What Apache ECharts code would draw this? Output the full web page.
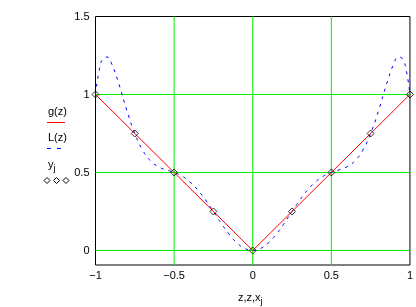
<!DOCTYPE html>
<html><head><meta charset="utf-8">
<script src="https://cdn.jsdelivr.net/npm/echarts@6/dist/echarts.min.js"></script>
<style>html,body{margin:0;padding:0;background:#fff}#c{width:416px;height:307px}</style>
</head><body><div id="c"></div>
<script>
// g(z) = |z|
var gX = [-1, 0, 1];
var gY = [1, 0, 1];
// L(z) interpolating polynomial
var lX = [-1,-0.975,-0.95,-0.925,-0.9,-0.85,-0.8,-0.75,-0.7,-0.65,-0.6,-0.55,-0.5,-0.45,-0.4,-0.35,-0.3,-0.25,-0.2,-0.15,-0.1,-0.05,0,
          0.05,0.1,0.15,0.2,0.25,0.3,0.35,0.4,0.45,0.5,0.55,0.6,0.65,0.7,0.75,0.8,0.85,0.9,0.925,0.95,0.975,1];
var lY = [1,1.161,1.232,1.240,1.204,1.063,0.896,0.75,0.643,0.575,0.537,0.517,0.5,0.477,0.440,0.389,0.324,0.25,0.174,0.105,0.049,0.013,0,
          0.013,0.049,0.105,0.174,0.25,0.324,0.389,0.440,0.477,0.5,0.517,0.537,0.575,0.643,0.75,0.896,1.063,1.204,1.240,1.232,1.161,1];
// nodes x_j, y_j
var xj = [-1,-0.75,-0.5,-0.25,0,0.25,0.5,0.75,1];
var yj = [1,0.75,0.5,0.25,0,0.25,0.5,0.75,1];
// tick labels
var xTicks = [-1,-0.5,0,0.5,1];
var yTicks = [0,0.5,1,1.5];
var xGrid = [-0.5,0,0.5];
var yGrid = [0,0.5,1];
var xMin = -1, xMax = 1, yMin = -0.093, yMax = 1.5;

function zip(a,b){return a.map(function(v,i){return [v,b[i]];});}
function fmt(v){return String(v).replace('-', '\u2212');}
var font = 'Liberation Sans, Arial, sans-serif';
var chart = echarts.init(document.getElementById('c'), null, {renderer:'canvas'});
var gridSeries = [];
xGrid.forEach(function(v){
  gridSeries.push({type:'line',silent:true,showSymbol:false,data:[[v,yMin],[v,yMax]],lineStyle:{color:'#00ee00',width:1},z:1});
});
yGrid.forEach(function(v){
  gridSeries.push({type:'line',silent:true,showSymbol:false,data:[[xMin,v],[xMax,v]],lineStyle:{color:'#00ee00',width:1},z:1});
});
chart.setOption({
  animation:false,
  backgroundColor:'#fff',
  grid:{left:95.5,right:4.5,top:16.5,bottom:42,show:true,borderColor:'#000',borderWidth:1,backgroundColor:'transparent'},
  xAxis:{type:'value',min:xMin,max:xMax,interval:0.5,
    axisLine:{show:false,onZero:false},axisTick:{show:false},splitLine:{show:false},
    axisLabel:{color:'#000',fontSize:11,fontFamily:font,margin:5,formatter:function(v){return fmt(v);},
      showMinLabel:true,showMaxLabel:true}},
  yAxis:{type:'value',min:yMin,max:yMax,
    axisLine:{show:false,onZero:false},axisTick:{show:false},splitLine:{show:false},
    axisLabel:{color:'#000',fontSize:11,fontFamily:font,margin:6,customValues:yTicks,formatter:function(v){return fmt(v);}}},
  series:gridSeries.concat([
    {name:'g(z)',type:'line',data:zip(gX,gY),showSymbol:false,lineStyle:{color:'#ff0000',width:1},z:3},
    {name:'L(z)',type:'line',data:zip(lX,lY),showSymbol:false,smooth:true,lineStyle:{color:'#0000ff',width:1,type:[3,5]},z:2},
    {name:'y_j',type:'scatter',data:zip(xj,yj),symbol:'diamond',symbolSize:7,
      itemStyle:{color:'transparent',borderColor:'#000',borderWidth:1},z:4}
  ]),
  graphic:[
    {type:'text',x:48,y:106,style:{text:'g(z)',font:'11px '+font,fill:'#000'}},
    {type:'line',shape:{x1:47,y1:122.5,x2:65,y2:122.5},style:{stroke:'#ff0000',lineWidth:1}},
    {type:'text',x:48,y:132,style:{text:'L(z)',font:'11px '+font,fill:'#000'}},
    {type:'line',shape:{x1:47,y1:148.5,x2:65,y2:148.5},style:{stroke:'#0000ff',lineWidth:1,lineDash:[4,6]}},
    {type:'text',x:48,y:156,style:{text:'{a|y}{b|j}',rich:{a:{font:'11px '+font,fill:'#000'},b:{font:'9px '+font,fill:'#000',padding:[8,0,0,0]}}}},
    {type:'polygon',shape:{points:[[47,177.5],[50,180.5],[47,183.5],[44,180.5]]},style:{fill:'none',stroke:'#000',lineWidth:1}},
    {type:'polygon',shape:{points:[[56.5,177.5],[59.5,180.5],[56.5,183.5],[53.5,180.5]]},style:{fill:'none',stroke:'#000',lineWidth:1}},
    {type:'polygon',shape:{points:[[66,177.5],[69,180.5],[66,183.5],[63,180.5]]},style:{fill:'none',stroke:'#000',lineWidth:1}},
    {type:'text',x:238,y:289,style:{text:'{a|z,z,x}{b|j}',rich:{a:{font:'11px '+font,fill:'#000'},b:{font:'9px '+font,fill:'#000',padding:[8,0,0,0]}}}}
  ]
});
</script></body></html>
